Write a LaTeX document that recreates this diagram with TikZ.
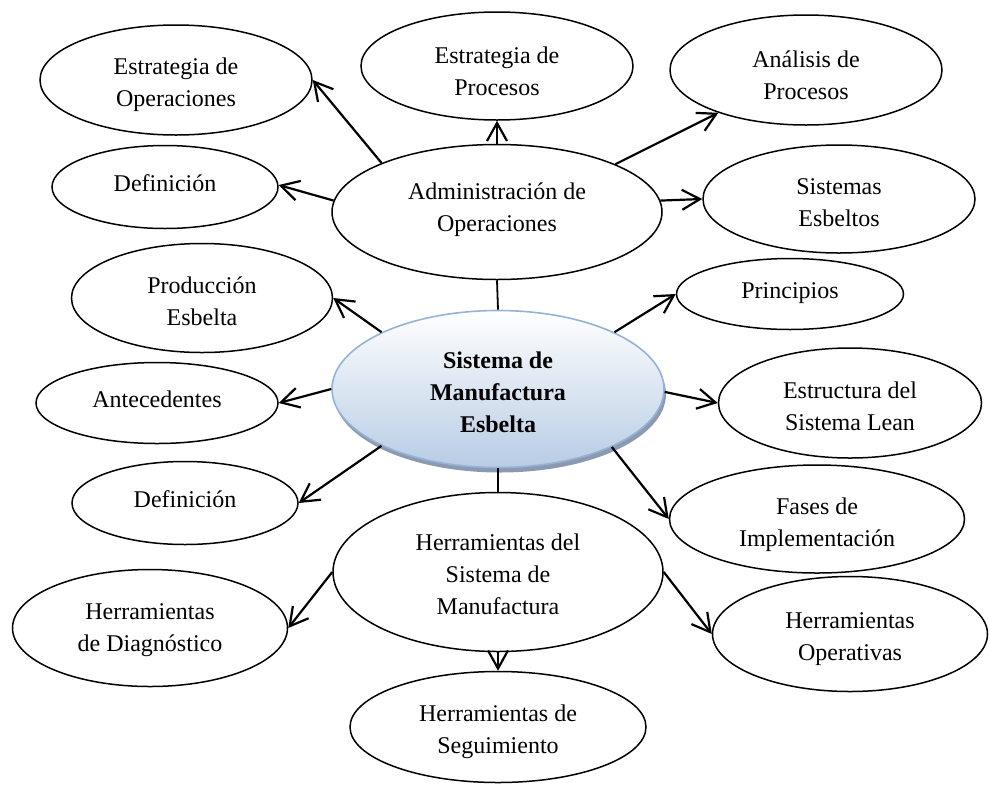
\documentclass[tikz,border=0pt]{standalone}
\usepackage{fontspec}
\setmainfont{Liberation Serif}
\usetikzlibrary{shapes.geometric,arrows.meta,shadows}

\definecolor{coreTop}{RGB}{255,255,255}
\definecolor{coreBottom}{RGB}{184,204,228}
\definecolor{coreEdge}{RGB}{149,179,215}
\definecolor{coreShadow}{RGB}{128,143,168}

\tikzset{
  bub/.style={ellipse, draw=black, line width=1.5pt, fill=white, inner sep=0pt},
  sz/.style 2 args={minimum width=#1, minimum height=#2},
  txt/.style={inner sep=0pt, align=center, font=\fontsize{24}{32}\selectfont},
  core/.style={ellipse, draw=coreEdge, line width=1.6pt, inner sep=0pt,
    top color=coreTop, bottom color=coreBottom,
    drop shadow={shadow xshift=2pt, shadow yshift=-5pt, fill=coreShadow, opacity=0.9}},
  coretxt/.style={txt, font=\fontsize{24}{32}\selectfont\bfseries},
  link/.style={line width=2.2pt, -{Straight Barb[length=18pt,width=20pt]}},
  bar/.style={line width=1.8pt}
}

\begin{document}
\begin{tikzpicture}[x=1pt,y=-1pt]
\useasboundingbox (0,0) rectangle (990,785);

% outer ring of topics
\node[bub, sz={272pt}{110pt}] (estop) at (176,80)  {};
\node[bub, sz={226pt}{83pt}]  (def1)  at (165,187) {};
\node[bub, sz={272pt}{108pt}] (estpr) at (497,66)  {};
\node[bub, sz={272pt}{110pt}] (anal)  at (806,70)  {};
\node[bub, sz={330pt}{135pt}] (admin) at (497,212) {};
\node[bub, sz={272pt}{108pt}] (sist)  at (839,199) {};
\node[bub, sz={261pt}{109pt}] (prod)  at (202,298) {};
\node[bub, sz={227pt}{71pt}]  (princ) at (790,294) {};
\node[bub, sz={242pt}{81pt}]  (ante)  at (157,403) {};
\node[bub, sz={263pt}{110pt}] (estr)  at (850,403) {};
\node[bub, sz={226pt}{83pt}]  (def2)  at (185,503) {};
\node[bub, sz={295pt}{108pt}] (fases) at (817,519) {};
\node[bub, sz={330pt}{159pt}] (herr)  at (498,572) {};
\node[bub, sz={275pt}{117pt}] (diag)  at (150,628) {};
\node[bub, sz={275pt}{115pt}] (oper)  at (850,634) {};
\node[bub, sz={296pt}{111pt}] (segu)  at (498,727) {};

% central concept
\node[core, sz={332pt}{157pt}] (core) at (498,389) {};

% texts of the ellipses
\node[txt] (estop-t) at (176,85)  {Estrategia de\\Operaciones};
\node[txt] (def1-t)  at (165,183) {Definición};
\node[txt] (estpr-t) at (497,71)  {Estrategia de\\Procesos};
\node[txt] (anal-t)  at (806,75)  {Análisis de\\Procesos};
\node[txt] (admin-t) at (497,210) {Administración de\\Operaciones};
\node[txt] (sist-t)  at (839,203) {Sistemas\\Esbeltos};
\node[txt] (prod-t)  at (202,301) {Producción\\Esbelta};
\node[txt] (princ-t) at (790,293) {Principios};
\node[txt] (ante-t)  at (157,399) {Antecedentes};
\node[txt] (estr-t)  at (850,406) {Estructura del\\Sistema Lean};
\node[txt] (def2-t)  at (185,499) {Definición};
\node[txt] (fases-t) at (817,525) {Fases de\\Implementación};
\node[txt] (herr-t)  at (498,574) {Herramientas del\\Sistema de\\Manufactura};
\node[txt] (diag-t)  at (150,630) {Herramientas\\de Diagnóstico};
\node[txt] (oper-t)  at (850,639) {Herramientas\\Operativas};
\node[txt] (segu-t)  at (498,732) {Herramientas de\\Seguimiento};
\node[coretxt] (core-t) at (498,392) {Sistema de\\Manufactura\\Esbelta};

% plain links between the three main ellipses
\draw[bar] (admin.south) -- (core.north);
\draw[bar] (core.south) -- (herr.north);

% branches of Administración de Operaciones
\draw[link] (admin.157) -- (estop.0);
\draw[link] (admin.176) -- (def1.1);
\draw[link] (admin.north) -- (estpr.south);
\draw[link] (admin.22) -- (anal.206);
\draw[link] (admin.4) -- (sist.180);

% branches of the central concept
\draw[link] (core.154.6) -- (prod.0);
\draw[link] (core.180) -- (ante.0);
\draw[link] (core.206.6) -- (def2.0);
\draw[link] (core.26) -- (princ.180);
\draw[link] (core.-1) -- (estr.180);
\draw[link] (core.-27) -- (fases.180);

% branches of Herramientas del Sistema de Manufactura
\draw[link] (herr.west) -- (diag.0);
\draw[link] (herr.east) -- (oper.180);
\draw[link] (herr.south) -- (segu.north);
\end{tikzpicture}
\end{document}
